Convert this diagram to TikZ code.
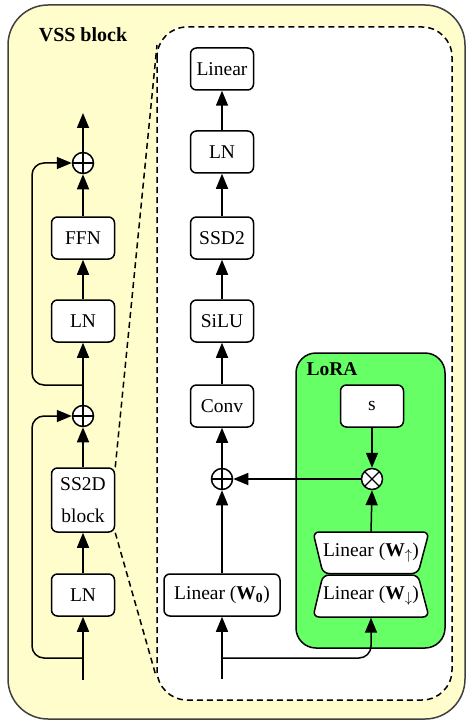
\documentclass[tikz,border=0pt]{standalone}
\usepackage{fontspec}
\setmainfont{Liberation Serif}
\usetikzlibrary{arrows.meta}
\definecolor{vssyellow}{RGB}{255,253,204}
\definecolor{loragreen}{RGB}{102,255,102}
\begin{document}
\begin{tikzpicture}[x=1pt,y=-1pt,
  txt/.style={font=\fontsize{19.5}{32}\selectfont},
  blk/.style={txt, draw, fill=white, rounded corners=6pt, line width=1.5pt, minimum width=63pt, minimum height=42pt, inner sep=0pt, align=center},
  wide/.style={blk, minimum width=116pt},
  trap/.style={txt, minimum width=116pt, minimum height=41pt, inner sep=0pt},
  arr/.style={line width=1.5pt, -{Triangle[length=15pt,width=12pt]}},
  opcircle/.style={circle, draw, fill=white, line width=1.5pt, minimum size=21pt, inner sep=0pt},
  oplus/.style={opcircle, path picture={
     \draw[line width=1.2pt] (path picture bounding box.north) -- (path picture bounding box.south)
       (path picture bounding box.west) -- (path picture bounding box.east);}},
  otimes/.style={opcircle, path picture={
     \draw[line width=1.2pt] (path picture bounding box.north west) -- (path picture bounding box.south east)
       (path picture bounding box.south west) -- (path picture bounding box.north east);}},
  zoomline/.style={line width=1.5pt, dash pattern=on 6pt off 4pt}
]
\useasboundingbox (0,0) rectangle (470,722);
% outer VSS block
\draw[draw=black!75, fill=vssyellow, line width=1.5pt, rounded corners=40pt] (8,5) rectangle (465,719);
\node[font=\fontsize{20}{22}\selectfont\bfseries] (title) at (83,35) {VSS block};

% left column
\node[blk] (lnA) at (83,595) {LN};
\node[blk, minimum height=64pt] (ss2d) at (83,500) {SS2D\\block};
\node[oplus] (plusA) at (83,416) {};
\node[blk] (lnB) at (83,321) {LN};
\node[blk] (ffn) at (83,238) {FFN};
\node[oplus] (plusB) at (83,163) {};
\coordinate (inL) at (83,680);
\coordinate (brA) at (83,658);
\coordinate (brB) at (83,385);
\coordinate (outL) at (83,113);

\draw[arr] (inL) -- (lnA.south);
\draw[arr] (lnA.north) -- (ss2d.south);
\draw[arr] (ss2d.north) -- (plusA.south);
\draw[arr] (plusA.north) -- (lnB.south);
\draw[arr] (lnB.north) -- (ffn.south);
\draw[arr] (ffn.north) -- (plusB.south);
\draw[arr] (plusB.north) -- (outL);
\draw[arr, rounded corners=12pt] (brA) -| (32,416) -- (plusA.west);
\draw[arr, rounded corners=12pt] (brB) -| (32,163) -- (plusB.west);

% zoom lines
\coordinate (zt) at (157,45);
\coordinate (zb) at (156,676);
\draw[zoomline] (ss2d.north east) -- (zt);
\draw[zoomline] (ss2d.south east) -- (zb);

% dashed detail box
\draw[zoomline, fill=white, rounded corners=30pt] (157,27) rectangle (452,700);

% main column
\node[wide] (w0) at (222,595) {Linear (\textbf{W}\textsubscript{\textbf{0}})};
\node[oplus] (plusC) at (222,479) {};
\node[blk] (conv) at (222,406) {Conv};
\node[blk] (silu) at (222,321) {SiLU};
\node[blk] (ssd) at (222,238) {SSD2};
\node[blk] (lnC) at (222,152) {LN};
\node[blk] (lin) at (222,69) {Linear};
\coordinate (inR) at (222,679);
\coordinate (brC) at (222,658);

% LoRA box
\draw[line width=1.5pt, fill=loragreen, rounded corners=20pt] (296,353) rectangle (445,648);
\node[font=\fontsize{19.5}{22}\selectfont\bfseries] (lora) at (332,369) {LoRA};
\node[blk] (s) at (372,406) {s};
\node[otimes] (times) at (372,479) {};
% trapezoids
\draw[line width=1.5pt, fill=white, rounded corners=6pt] (313,532) -- (429,532) -- (418,573.5) -- (323,573.5) -- cycle;
\draw[line width=1.5pt, fill=white, rounded corners=6pt] (323,575) -- (418,575) -- (429,617) -- (313,617) -- cycle;
\node[trap] (wup) at (371,552.5) {Linear (\textbf{W}\textsubscript{$\uparrow$})};
\node[trap] (wdn) at (371,596) {Linear (\textbf{W}\textsubscript{$\downarrow$})};

\draw[arr] (inR) -- (w0.south);
\draw[arr] (w0.north) -- (plusC.south);
\draw[arr] (plusC.north) -- (conv.south);
\draw[arr] (conv.north) -- (silu.south);
\draw[arr] (silu.north) -- (ssd.south);
\draw[arr] (ssd.north) -- (lnC.south);
\draw[arr] (lnC.north) -- (lin.south);
\draw[arr, rounded corners=12pt] (brC) -| ([yshift=-1pt]wdn.south);
\draw[arr] (s.south) -- (times.north);
\draw[arr] ([yshift=-1pt]wup.north) -- (times.south);
\draw[arr] (times.west) -- (plusC.east);
\end{tikzpicture}
\end{document}
